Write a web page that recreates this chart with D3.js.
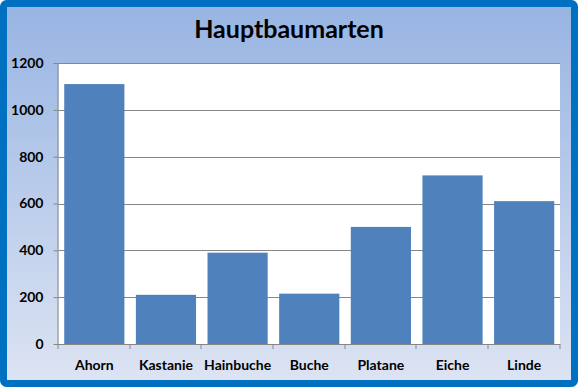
<!DOCTYPE html>
<html>
<head>
<meta charset="utf-8">
<script src="https://cdn.jsdelivr.net/npm/d3@7"></script>
<style>
  body { margin: 0; padding: 0; background: #fff; }
  svg { display: block; }
</style>
</head>
<body>
<svg id="chart" width="578" height="387"></svg>
<script>
// Baumarten und Anzahl
const categories = ["Ahorn", "Kastanie", "Hainbuche", "Buche", "Platane", "Eiche", "Linde"];
const values = [1110, 210, 390, 215, 500, 720, 610];
const yTicks = [0, 200, 400, 600, 800, 1000, 1200];

const fullWidth = 578, fullHeight = 387;
const margin = { top: 63, right: 18, bottom: 43, left: 58.5 };
const width = fullWidth - margin.left - margin.right;
const height = fullHeight - margin.top - margin.bottom;

const svg = d3.select("#chart");

// Hintergrund mit Verlauf
const defs = svg.append("defs");
const grad = defs.append("linearGradient")
    .attr("id", "bg").attr("x1", 0).attr("y1", 0).attr("x2", 0).attr("y2", 1);
grad.append("stop").attr("offset", "0%").attr("stop-color", "#97b4e2");
grad.append("stop").attr("offset", "100%").attr("stop-color", "#dde4f3");

svg.append("rect")
    .attr("x", 3.5).attr("y", 3.5)
    .attr("width", fullWidth - 7).attr("height", fullHeight - 7)
    .attr("rx", 3)
    .style("fill", "url(#bg)")
    .style("stroke", "#0070c0")
    .style("stroke-width", 7);

svg.append("text")
    .attr("x", 289)
    .attr("y", 38)
    .attr("text-anchor", "middle")
    .style("font-family", "Lato, 'Open Sans', sans-serif")
    .style("font-weight", "bold")
    .style("font-size", "25px")
    .style("fill", "#000")
    .text("Hauptbaumarten");

const g = svg.append("g")
    .attr("transform", `translate(${margin.left},${margin.top})`);

const x = d3.scaleBand()
    .domain(categories)
    .range([0, width])
    .paddingInner(0.16)
    .paddingOuter(0.08);

const y = d3.scaleLinear()
    .domain([0, 1200])
    .range([height, 0]);

// Zeichenfläche
g.append("rect")
    .attr("width", width)
    .attr("height", height)
    .style("fill", "#fff");

// Gitterlinien
g.append("g")
    .selectAll("line")
    .data(yTicks.filter(d => d > 0))
    .enter()
    .append("line")
    .attr("x1", 0).attr("x2", width)
    .attr("y1", d => Math.round(y(d)) + 0.5)
    .attr("y2", d => Math.round(y(d)) + 0.5)
    .style("stroke", "#868686")
    .style("stroke-width", 1);

g.selectAll("rect.bar")
    .data(values)
    .enter()
    .append("rect")
    .attr("class", "bar")
    .attr("x", (d, i) => x(categories[i]))
    .attr("y", d => y(d))
    .attr("width", x.bandwidth())
    .attr("height", d => height - y(d))
    .style("fill", "#4f81bd");

// Achsen
const yAxis = g.append("g")
    .call(d3.axisLeft(y).tickValues(yTicks).tickFormat(d3.format("d")).tickSize(5).tickPadding(10));
yAxis.select(".domain").attr("d", `M-0.5,${height}V0`).style("stroke", "#868686");
yAxis.selectAll(".tick line").style("stroke", "#868686").attr("x1", -0.5);
yAxis.selectAll(".tick text")
    .style("font-family", "Lato, 'Open Sans', sans-serif")
    .style("font-weight", "bold")
    .style("font-size", "14px")
    .style("fill", "#000");

const xAxis = g.append("g")
    .attr("transform", `translate(0,${height})`);
xAxis.append("line")
    .attr("x1", -0.5).attr("x2", width)
    .attr("y1", 0.5).attr("y2", 0.5)
    .style("stroke", "#868686");
xAxis.selectAll("line.tick")
    .data(d3.range(categories.length + 1))
    .enter()
    .append("line")
    .attr("class", "tick")
    .attr("x1", i => Math.round(i * width / categories.length) - 0.5)
    .attr("x2", i => Math.round(i * width / categories.length) - 0.5)
    .attr("y1", 0).attr("y2", 5)
    .style("stroke", "#868686");
xAxis.selectAll("text")
    .data(categories)
    .enter()
    .append("text")
    .attr("x", d => x(d) + x.bandwidth() / 2)
    .attr("y", 26)
    .attr("text-anchor", "middle")
    .style("font-family", "Lato, 'Open Sans', sans-serif")
    .style("font-weight", "bold")
    .style("font-size", "14px")
    .style("fill", "#000")
    .text(d => d);
</script>
</body>
</html>
